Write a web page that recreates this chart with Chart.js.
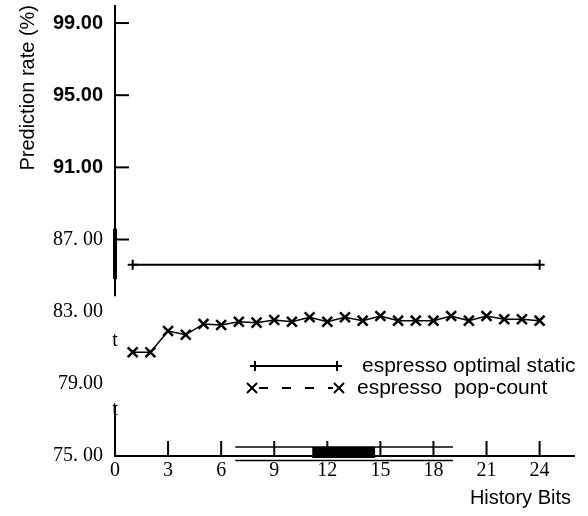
<!DOCTYPE html>
<html lang="en">
<head>
  <meta charset="UTF-8">
  <title>Prediction rate x History Bits</title>
  <style>
    body { margin: 0; background: #fff; }
    #wrap { width: 588px; height: 516px; }
  </style>
</head>
<body>
  <div id="wrap"><canvas id="grafico" width="588" height="516"></canvas></div>
  <script src="https://cdn.jsdelivr.net/npm/chart.js"></script>
  <script>
    // pop-count run, one point per history length
    const bits = [1,2,3,4,5,6,7,8,9,10,11,12,13,14,15,16,17,18,19,20,21,22,23,24];
    const popCount = [80.75,80.75,81.93,81.72,82.32,82.26,82.44,82.39,82.54,82.44,82.69,82.44,
                      82.69,82.50,82.76,82.50,82.50,82.50,82.76,82.50,82.76,82.58,82.58,82.50];
    // optimal static is flat, only the two ends carry a marker
    const staticBits = [1, 24];
    const staticRate = [85.6, 85.6];

    const xTicks = [0,3,6,9,12,15,18,21,24];
    const yTicks = [75,79,83,87,91,95,99];
    const yTickLabels = ['75. 00','79.00','83. 00','87. 00','91.00','95.00','99.00'];
    const legendLabels = ['espresso optimal static', 'espresso  pop-count'];
    const xTitle = 'History Bits';

    const SANS = "'Liberation Sans', Arial, sans-serif";
    const SERIF = "'Liberation Serif', 'Times New Roman', serif";

    function linha(ctx, x1, y1, x2, y2) {
      ctx.beginPath(); ctx.moveTo(x1, y1); ctx.lineTo(x2, y2); ctx.stroke();
    }

    // axes are drawn by hand: the scanned original has a broken y axis and inward ticks
    const eixos = {
      id: 'eixos',
      afterDraw(chart) {
        const {ctx, chartArea: a, scales: {x, y}} = chart;
        ctx.save();
        ctx.strokeStyle = '#000';
        ctx.fillStyle = '#000';
        ctx.lineWidth = 2;
        linha(ctx, a.left, y.getPixelForValue(100), a.left, y.getPixelForValue(83.85));
        linha(ctx, a.left, y.getPixelForValue(77.8), a.left, a.bottom + 1);
        ctx.lineWidth = 4;
        linha(ctx, a.left, y.getPixelForValue(87.6), a.left, y.getPixelForValue(84.8));
        ctx.lineWidth = 2;
        linha(ctx, a.left - 1, a.bottom, a.right, a.bottom);
        // y ticks only where the axis survived
        [87, 91, 95, 99].forEach(v => {
          const py = y.getPixelForValue(v);
          linha(ctx, a.left, py, a.left + 14, py);
        });
        xTicks.slice(1).forEach(v => {
          const px = x.getPixelForValue(v);
          linha(ctx, px, a.bottom, px, a.bottom - 15);
        });
        // stray marks of the scan
        ctx.font = '20px ' + SERIF;
        ctx.textAlign = 'center';
        ctx.textBaseline = 'alphabetic';
        ctx.fillText('t', a.left, y.getPixelForValue(81.1));
        ctx.fillText('t', a.left, y.getPixelForValue(77.3));
        ctx.lineWidth = 1.5;
        const yA = y.getPixelForValue(75.5), yB = y.getPixelForValue(74.75);
        linha(ctx, x.getPixelForValue(6.8), yA, x.getPixelForValue(19.1), yA);
        linha(ctx, x.getPixelForValue(6.8), yB, x.getPixelForValue(19.1), yB);
        const r1 = x.getPixelForValue(11.15), r2 = x.getPixelForValue(14.7);
        ctx.fillRect(r1, yA, r2 - r1, a.bottom + 2 - yA);
        // x title, right under the end of the axis
        ctx.font = '20px ' + SANS;
        ctx.textAlign = 'right';
        ctx.textBaseline = 'middle';
        ctx.fillText(xTitle, a.right - 4, 498);
        ctx.restore();
      }
    };

    // legend sits inside the plot, drawn like the original
    const legenda = {
      id: 'legenda',
      afterDraw(chart) {
        const ctx = chart.ctx;
        ctx.save();
        ctx.strokeStyle = '#000';
        ctx.fillStyle = '#000';
        ctx.font = '21px ' + SANS;
        ctx.textBaseline = 'middle';
        ctx.textAlign = 'left';
        // line 1: + ---- +
        let yy = 366;
        ctx.lineWidth = 2;
        linha(ctx, 255, yy, 337, yy);
        [255, 337].forEach(cx => { linha(ctx, cx - 5, yy, cx + 5, yy); linha(ctx, cx, yy - 5, cx, yy + 5); });
        ctx.fillText(legendLabels[0], 362, yy);
        // line 2: x - - - x
        yy = 388;
        ctx.setLineDash([9, 14]);
        linha(ctx, 259, yy, 333, yy);
        ctx.setLineDash([]);
        [252, 339].forEach(cx => { linha(ctx, cx - 5, yy - 5, cx + 5, yy + 5); linha(ctx, cx - 5, yy + 5, cx + 5, yy - 5); });
        ctx.fillText(legendLabels[1], 357, yy);
        ctx.restore();
      }
    };

    new Chart(document.getElementById('grafico').getContext('2d'), {
      type: 'line',
      data: {
        datasets: [
          {
            label: legendLabels[0],
            data: staticBits.map((b, i) => ({x: b, y: staticRate[i]})),
            borderColor: '#000', backgroundColor: '#000', borderWidth: 2,
            pointStyle: 'cross', pointRadius: 5, pointBorderWidth: 2
          },
          {
            label: legendLabels[1],
            data: bits.map((b, i) => ({x: b, y: popCount[i]})),
            borderColor: '#000', backgroundColor: '#000', borderWidth: 1.5,
            pointStyle: 'crossRot', pointRadius: 7, pointBorderWidth: 2.5
          }
        ]
      },
      options: {
        responsive: false,
        animation: false,
        events: [],
        layout: { autoPadding: false, padding: { left: 12, top: 5, right: 13, bottom: 0 } },
        plugins: { legend: { display: false }, tooltip: { enabled: false } },
        scales: {
          x: {
            type: 'linear', min: 0, max: 26,
            grid: { display: false, drawTicks: false },
            border: { display: false },
            afterBuildTicks: s => { s.ticks = xTicks.map(v => ({value: v})); },
            afterFit: s => { s.height = 60; s.paddingLeft = 0; s.paddingRight = 0; },
            ticks: { color: '#000', padding: 3, font: { family: SERIF, size: 20 } }
          },
          y: {
            type: 'linear', min: 75, max: 100,
            grid: { display: false, drawTicks: false },
            border: { display: false },
            afterBuildTicks: s => { s.ticks = yTicks.map(v => ({value: v})); },
            afterFit: s => { s.width = 103; s.paddingTop = 0; s.paddingBottom = 0; },
            ticks: {
              color: '#000', padding: 12,
              callback: v => yTickLabels[yTicks.indexOf(v)],
              font: c => c.tick && c.tick.value >= 91
                ? { family: SANS, size: 20, weight: 'bold' }
                : { family: SERIF, size: 20 }
            },
            title: { display: true, text: 'Prediction rate (%)', align: 'end', color: '#000',
                     font: { family: SANS, size: 20 } }
          }
        }
      },
      plugins: [eixos, legenda]
    });
  </script>
</body>
</html>
